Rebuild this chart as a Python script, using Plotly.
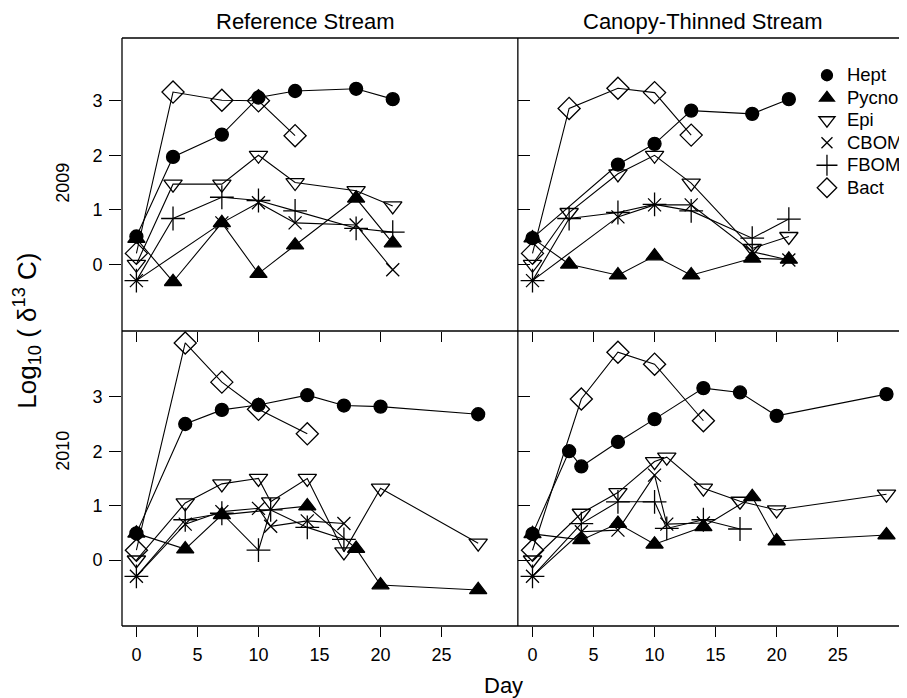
import plotly.graph_objects as go

# ---------------- data (day, log10 delta13C) ----------------
SERIES = ["Hept", "Pycno", "Epi", "CBOM", "FBOM", "Bact"]

# Reference Stream 2009
REF09_HEPT_DAY = [0, 3, 7, 10, 13, 18, 21]
REF09_HEPT = [0.51, 1.97, 2.38, 3.06, 3.18, 3.22, 3.03]
REF09_PYCNO_DAY = [0, 3, 7, 10, 13, 18, 21]
REF09_PYCNO = [0.47, -0.32, 0.76, -0.17, 0.35, 1.21, 0.39]
REF09_EPI_DAY = [0, 3, 7, 10, 13, 18, 21]
REF09_EPI = [0.0, 1.47, 1.47, 2.0, 1.5, 1.35, 1.07]
REF09_CBOM_DAY = [0, 7, 10, 13, 18, 21]
REF09_CBOM = [-0.3, 0.76, 1.13, 0.76, 0.72, -0.1]
REF09_FBOM_DAY = [0, 3, 7, 10, 13, 18, 21]
REF09_FBOM = [-0.3, 0.84, 1.23, 1.17, 0.98, 0.66, 0.59]
REF09_BACT_DAY = [0, 3, 7, 10, 13]
REF09_BACT = [0.2, 3.16, 3.01, 3.0, 2.36]

# Canopy-Thinned Stream 2009
CAN09_HEPT_DAY = [0, 7, 10, 13, 18, 21]
CAN09_HEPT = [0.48, 1.83, 2.21, 2.82, 2.76, 3.03]
CAN09_PYCNO_DAY = [0, 3, 7, 10, 13, 18, 21]
CAN09_PYCNO = [0.48, 0.0, -0.2, 0.15, -0.2, 0.11, 0.09]
CAN09_EPI_DAY = [0, 3, 7, 10, 13, 18, 21]
CAN09_EPI = [0.0, 0.95, 1.66, 2.0, 1.49, 0.29, 0.51]
CAN09_CBOM_DAY = [0, 7, 10, 13, 18, 21]
CAN09_CBOM = [-0.3, 0.87, 1.09, 1.09, 0.23, 0.08]
CAN09_FBOM_DAY = [0, 3, 7, 10, 13, 18, 21]
CAN09_FBOM = [-0.3, 0.84, 0.95, 1.1, 0.98, 0.48, 0.83]
CAN09_BACT_DAY = [0, 3, 7, 10, 13]
CAN09_BACT = [0.2, 2.86, 3.23, 3.15, 2.37]

# Reference Stream 2010
REF10_HEPT_DAY = [0, 4, 7, 10, 14, 17, 20, 28]
REF10_HEPT = [0.49, 2.5, 2.76, 2.85, 3.03, 2.84, 2.82, 2.68]
REF10_PYCNO_DAY = [0, 4, 7, 14, 18, 20, 28]
REF10_PYCNO = [0.49, 0.2, 0.83, 0.99, 0.21, -0.46, -0.55]
REF10_EPI_DAY = [0, 4, 7, 10, 11, 14, 17, 20, 28]
REF10_EPI = [0.0, 1.05, 1.40, 1.50, 1.07, 1.50, 0.15, 1.32, 0.31]
REF10_CBOM_DAY = [0, 4, 7, 10, 11, 14, 17]
REF10_CBOM = [-0.3, 0.66, 0.89, 0.95, 0.62, 0.72, 0.67]
REF10_FBOM_DAY = [0, 4, 7, 10, 11, 14, 17]
REF10_FBOM = [-0.3, 0.74, 0.86, 0.18, 0.92, 0.6, 0.38]
REF10_BACT_DAY = [0, 4, 7, 10, 14]
REF10_BACT = [0.18, 3.99, 3.27, 2.77, 2.32]

# Canopy-Thinned Stream 2010
CAN10_HEPT_DAY = [0, 3, 4, 7, 10, 14, 17, 20, 29]
CAN10_HEPT = [0.48, 2.0, 1.72, 2.17, 2.59, 3.16, 3.08, 2.65, 3.05]
CAN10_PYCNO_DAY = [0, 4, 7, 10, 14, 18, 20, 29]
CAN10_PYCNO = [0.48, 0.37, 0.67, 0.29, 0.61, 1.16, 0.35, 0.46]
CAN10_EPI_DAY = [0, 4, 7, 10, 11, 14, 17, 20, 29]
CAN10_EPI = [0.0, 0.86, 1.24, 1.81, 1.89, 1.32, 1.08, 0.92, 1.21]
CAN10_CBOM_DAY = [0, 4, 7, 10, 11, 14]
CAN10_CBOM = [-0.3, 0.52, 0.55, 1.56, 0.66, 0.68]
CAN10_FBOM_DAY = [0, 4, 7, 10, 11, 14, 17]
CAN10_FBOM = [-0.3, 0.67, 1.07, 1.07, 0.58, 0.74, 0.57]
CAN10_BACT_DAY = [0, 4, 7, 10, 14]
CAN10_BACT = [0.18, 2.96, 3.82, 3.60, 2.56]

PANEL_TITLES = ["Reference Stream", "Canopy-Thinned Stream"]
ROW_TITLES = ["2009", "2010"]
X_TICKS = [0, 5, 10, 15, 20, 25]
Y_TICKS = [0, 1, 2, 3]

# ---------------- styling ----------------
SYMBOLS = {
    "Hept": ("circle", 13),
    "Pycno": ("triangle-up", 15),
    "Epi": ("triangle-down-open", 16),
    "CBOM": ("x-thin-open", 13),
    "FBOM": ("cross-thin-open", 17),
    "Bact": ("diamond-open", 17),
}

panels = [
    ("x", "y", [(REF09_HEPT_DAY, REF09_HEPT), (REF09_PYCNO_DAY, REF09_PYCNO), (REF09_EPI_DAY, REF09_EPI),
                (REF09_CBOM_DAY, REF09_CBOM), (REF09_FBOM_DAY, REF09_FBOM), (REF09_BACT_DAY, REF09_BACT)]),
    ("x2", "y2", [(CAN09_HEPT_DAY, CAN09_HEPT), (CAN09_PYCNO_DAY, CAN09_PYCNO), (CAN09_EPI_DAY, CAN09_EPI),
                  (CAN09_CBOM_DAY, CAN09_CBOM), (CAN09_FBOM_DAY, CAN09_FBOM), (CAN09_BACT_DAY, CAN09_BACT)]),
    ("x3", "y3", [(REF10_HEPT_DAY, REF10_HEPT), (REF10_PYCNO_DAY, REF10_PYCNO), (REF10_EPI_DAY, REF10_EPI),
                  (REF10_CBOM_DAY, REF10_CBOM), (REF10_FBOM_DAY, REF10_FBOM), (REF10_BACT_DAY, REF10_BACT)]),
    ("x4", "y4", [(CAN10_HEPT_DAY, CAN10_HEPT), (CAN10_PYCNO_DAY, CAN10_PYCNO), (CAN10_EPI_DAY, CAN10_EPI),
                  (CAN10_CBOM_DAY, CAN10_CBOM), (CAN10_FBOM_DAY, CAN10_FBOM), (CAN10_BACT_DAY, CAN10_BACT)]),
]

fig = go.Figure()

for xa, ya, data in panels:
    for name, (dx, dy) in zip(SERIES, data):
        sym, size = SYMBOLS[name]
        fig.add_trace(go.Scatter(
            x=dx, y=dy, xaxis=xa, yaxis=ya, mode="lines+markers",
            line=dict(color="black", width=1.1),
            marker=dict(symbol=sym, size=size, color="black",
                        line=dict(color="black", width=1.3)),
            showlegend=False, name=name, hoverinfo="skip",
        ))

# legend-only entries (symbols without lines)
for name in SERIES:
    sym, size = SYMBOLS[name]
    fig.add_trace(go.Scatter(
        x=[None], y=[None], xaxis="x2", yaxis="y2", mode="markers",
        name='<span style="font-size:18.5px">%s</span>' % name,
        marker=dict(symbol=sym, size=size - 2, color="black", line=dict(color="black", width=1.3)),
        showlegend=True,
    ))

# The page body adds an 8px offset; layout numbers below are in figure pixels.
W, H = 899, 690
ML, MR, MT, MB = 114.3, 0, 30, 72
PW = W - ML - MR
PH = H - MT - MB
split_x = 395.7 / PW
split_y = 295 / PH
XR_LEFT = [-1.18, 31.25]
XR_RIGHT = [-1.2, 30.68]
YR_TOP = [-1.224, 4.152]
YR_BOT = [-1.213, 4.21]

font = "Liberation Sans, Arial, Helvetica, sans-serif"


def px_x(px):
    return (px - ML) / PW


def px_y(py):
    return 1 - (py - MT) / PH


common_x = dict(showgrid=False, zeroline=False, showline=False, tickvals=X_TICKS,
                tickcolor="black", tickwidth=1, ticks="outside")
common_y = dict(showgrid=False, zeroline=False, showline=False, tickvals=Y_TICKS,
                tickcolor="black", tickwidth=1)

fig.update_layout(
    width=W, height=H,
    margin=dict(l=ML, r=MR, t=MT, b=MB, autoexpand=False),
    paper_bgcolor="white", plot_bgcolor="white",
    xaxis=dict(domain=[0, split_x], range=XR_LEFT, anchor="y", showticklabels=False, ticklen=10, **common_x),
    xaxis2=dict(domain=[split_x, 1], range=XR_RIGHT, anchor="y2", showticklabels=False, ticklen=10, **common_x),
    xaxis3=dict(domain=[0, split_x], range=XR_LEFT, anchor="y3", showticklabels=True, ticklen=10,
                tickfont=dict(family=font, size=18, color="black"), ticklabelstandoff=2, **common_x),
    xaxis4=dict(domain=[split_x, 1], range=XR_RIGHT, anchor="y4", showticklabels=True, ticklen=10,
                tickfont=dict(family=font, size=18, color="black"), ticklabelstandoff=2, **common_x),
    yaxis=dict(domain=[split_y, 1], range=YR_TOP, anchor="x", ticks="outside", ticklen=12, showticklabels=True,
               tickfont=dict(family=font, size=18, color="black"), ticklabelstandoff=3, **common_y),
    yaxis2=dict(domain=[split_y, 1], range=YR_TOP, anchor="x2", ticks="inside", ticklen=12,
                showticklabels=False, **common_y),
    yaxis3=dict(domain=[0, split_y], range=YR_BOT, anchor="x3", ticks="outside", ticklen=12, showticklabels=True,
                tickfont=dict(family=font, size=18, color="black"), ticklabelstandoff=3, **common_y),
    yaxis4=dict(domain=[0, split_y], range=YR_BOT, anchor="x4", ticks="inside", ticklen=12,
                showticklabels=False, **common_y),
    legend=dict(x=px_x(799), y=px_y(51), xanchor="left", yanchor="top",
                bgcolor="rgba(0,0,0,0)", borderwidth=0, itemwidth=30, tracegroupgap=0,
                font=dict(family=font, size=15, color="black")),
    showlegend=True,
)

# panel frames
frame = dict(color="black", width=1.3)
fig.add_shape(type="line", xref="paper", yref="paper", x0=0, x1=0, y0=0, y1=1, line=frame)
fig.add_shape(type="line", xref="paper", yref="paper", x0=split_x, x1=split_x, y0=0, y1=1, line=frame)
fig.add_shape(type="line", xref="paper", yref="paper", x0=0, x1=1, y0=1, y1=1, line=frame)
fig.add_shape(type="line", xref="paper", yref="paper", x0=0, x1=1, y0=split_y, y1=split_y, line=frame)
fig.add_shape(type="line", xref="paper", yref="paper", x0=0, x1=1, y0=0, y1=0, line=frame)

# column titles
fig.add_annotation(text=PANEL_TITLES[0], xref="paper", yref="paper", x=px_x(298), y=px_y(14),
                   xanchor="center", yanchor="middle", showarrow=False,
                   font=dict(family=font, size=22, color="black"))
fig.add_annotation(text=PANEL_TITLES[1], xref="paper", yref="paper", x=px_x(695), y=px_y(14),
                   xanchor="center", yanchor="middle", showarrow=False,
                   font=dict(family=font, size=22, color="black"))
# row titles
fig.add_annotation(text=ROW_TITLES[0], xref="paper", yref="paper", x=px_x(55), y=px_y(175),
                   xanchor="center", yanchor="middle", textangle=-90, showarrow=False,
                   font=dict(family=font, size=18, color="black"))
fig.add_annotation(text=ROW_TITLES[1], xref="paper", yref="paper", x=px_x(55), y=px_y(443),
                   xanchor="center", yanchor="middle", textangle=-90, showarrow=False,
                   font=dict(family=font, size=18, color="black"))
# axis titles
fig.add_annotation(text="Log<sub>10</sub> ( δ<sup>13</sup> C)", xref="paper", yref="paper",
                   x=px_x(19), y=px_y(323), xanchor="center", yanchor="middle", textangle=-90,
                   showarrow=False, font=dict(family=font, size=26, color="black"))
fig.add_annotation(text="Day", xref="paper", yref="paper", x=px_x(496), y=px_y(677),
                   xanchor="center", yanchor="middle", showarrow=False,
                   font=dict(family=font, size=22, color="black"))

fig.write_html("out.html")
